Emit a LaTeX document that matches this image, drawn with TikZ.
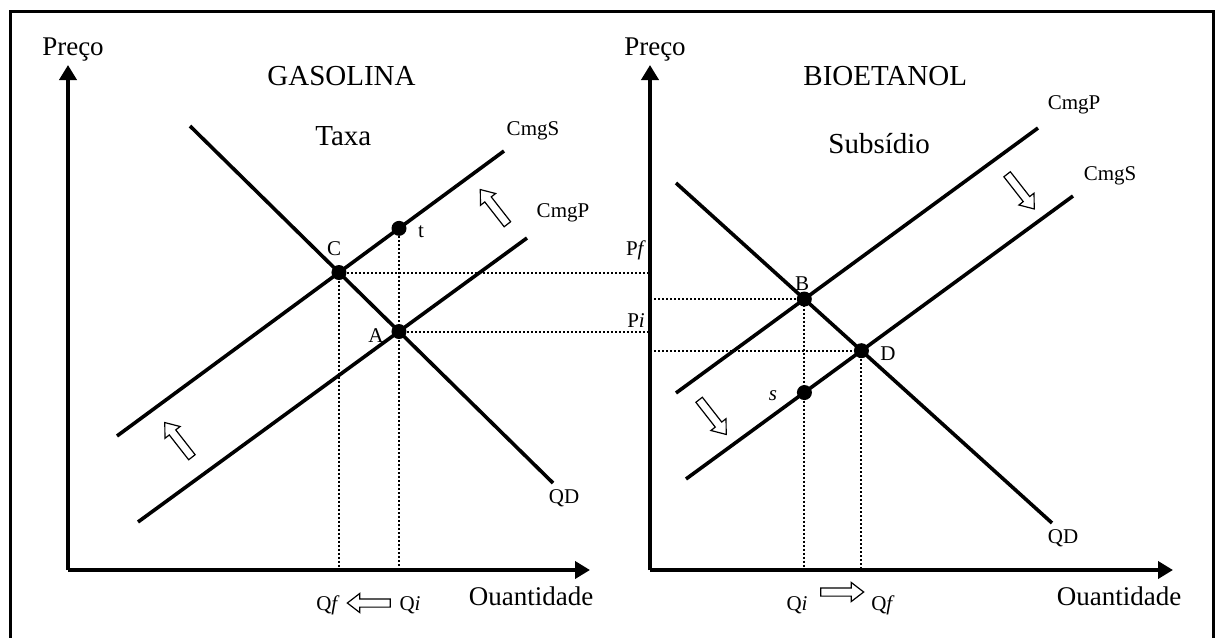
\documentclass[tikz,border=0pt]{standalone}
\usepackage{fontspec}
\setmainfont{Liberation Serif}
\usetikzlibrary{arrows.meta,shapes.arrows}
\begin{document}
\begin{tikzpicture}[x=0.5pt,y=-0.5pt,
	axis/.style={line width=2pt,-{Triangle[length=7.5pt,width=8.5pt]}},
	curve/.style={line width=1.8pt},
	guide/.style={line width=1pt,dash pattern=on 1pt off 1pt},
	dot/.style={circle,fill,inner sep=0pt,minimum size=7.5pt},
	big/.style={font=\fontsize{13.5}{16}\selectfont,inner sep=0pt,anchor=base},
	title/.style={font=\fontsize{14.5}{17}\selectfont,inner sep=0pt,anchor=base west},
	lbl/.style={font=\fontsize{10.5}{12}\selectfont,inner sep=0pt,anchor=base},
	hollow/.style={single arrow,draw,line width=0.6pt,inner xsep=0pt,inner ysep=1.75pt,
		single arrow head extend=2.75pt,single arrow tip angle=75,minimum height=#1},
	hollow/.default=22pt]
	\useasboundingbox (0,0) rectangle (1215,637);
	\draw[line width=1.5pt] (10,645) -- (10,11) -- (1213,11) -- (1213,645);
	% gasolina
	\coordinate (O1) at (68,570);
	\coordinate (Y1) at (68,65);
	\coordinate (X1) at (590,570);
	\coordinate (qd1a) at (190,126); \coordinate (qd1b) at (553,483);
	\coordinate (gs1a) at (117,436); \coordinate (gs1b) at (504,151);
	\coordinate (gp1a) at (138,522); \coordinate (gp1b) at (527,238);
	\coordinate (C) at (intersection of qd1a--qd1b and gs1a--gs1b);
	\coordinate (A) at (intersection of qd1a--qd1b and gp1a--gp1b);
	\path (A) ++(0,-100) coordinate (Atop);
	\coordinate (t) at (intersection of A--Atop and gs1a--gs1b);
	% bioetanol
	\coordinate (O2) at (650,570);
	\coordinate (Y2) at (650,65);
	\coordinate (X2) at (1173,570);
	\coordinate (qd2a) at (676,183); \coordinate (qd2b) at (1052,523);
	\coordinate (bp2a) at (676,393); \coordinate (bp2b) at (1038,128);
	\coordinate (bs2a) at (686,479); \coordinate (bs2b) at (1073,196);
	\coordinate (B) at (intersection of qd2a--qd2b and bp2a--bp2b);
	\coordinate (D) at (intersection of qd2a--qd2b and bs2a--bs2b);
	\path (B) ++(0,100) coordinate (Bdown);
	\coordinate (s) at (intersection of B--Bdown and bs2a--bs2b);
	% linhas pontilhadas
	\draw[guide] (C) -- (C -| O2) (C) -- (C |- O1);
	\draw[guide] (A) -- (A -| O2) (t) -- (t |- O1);
	\draw[guide] (O2 |- B) -- (B) -- (B |- O2);
	\draw[guide] (O2 |- D) -- (D) -- (D |- O2);
	% eixos
	\draw[axis] (O1) -- (Y1);
	\draw[axis] (O1) -- (X1);
	\draw[axis] (O2) -- (Y2);
	\draw[axis] (O2) -- (X2);
	% curvas
	\draw[curve] (qd1a) -- (qd1b) (gs1a) -- (gs1b) (gp1a) -- (gp1b);
	\draw[curve] (qd2a) -- (qd2b) (bp2a) -- (bp2b) (bs2a) -- (bs2b);
	\node[dot] (dC) at (C) {};
	\node[dot] (dA) at (A) {};
	\node[dot] (dt) at (t) {};
	\node[dot] (dB) at (B) {};
	\node[dot] (dD) at (D) {};
	\node[dot] (ds) at (s) {};
	% textos
	\node[big] (preco1) at (73,55) {Preço};
	\node[big] (preco2) at (655,55) {Preço};
	\node[title] (gas) at (267,85) {GASOLINA};
	\node[title] (taxa) at (315,145) {Taxa};
	\node[title] (bio) at (803,85) {BIOETANOL};
	\node[title] (sub) at (828,153) {Subsídio};
	\node[big] (quant1) at (531,605) {Ouantidade};
	\node[big] (quant2) at (1119,605) {Ouantidade};
	\node[lbl] at (533,135) {CmgS};
	\node[lbl] at (563,217) {CmgP};
	\node[lbl] at (564,503) {QD};
	\node[lbl] at (1074,109) {CmgP};
	\node[lbl] at (1110,180) {CmgS};
	\node[lbl] at (1063,543) {QD};
	\node[lbl] at (334,255) {C};
	\node[lbl] at (376,342) {A};
	\node[lbl] at (421,237) {t};
	\node[lbl] at (636,255) {P\textit{f}};
	\node[lbl] at (636,327) {P\textit{i}};
	\node[lbl] at (802,290) {B};
	\node[lbl] at (888,360) {D};
	\node[lbl] at (773,400) {\textit{s}};
	\node[lbl] (qf1) at (328,610) {Q\textit{f}};
	\node[lbl] (qi1) at (410,610) {Q\textit{i}};
	\node[lbl] (qi2) at (797,610) {Q\textit{i}};
	\node[lbl] (qf2) at (883,610) {Q\textit{f}};
	% setas
	\node[hollow=21.5pt,rotate=180] (sq1) at (371.5,603) {};
	\node[hollow=21.5pt] (sq2) at (839.5,592) {};
	\node[hollow,rotate=128] (sl1) at (180,442) {};
	\node[hollow,rotate=128] (sl2) at (495.5,209) {};
	\node[hollow,rotate=-52] (sr1) at (1019,189.5) {};
	\node[hollow,rotate=-52] (sr2) at (711,415) {};
\end{tikzpicture}
\end{document}
